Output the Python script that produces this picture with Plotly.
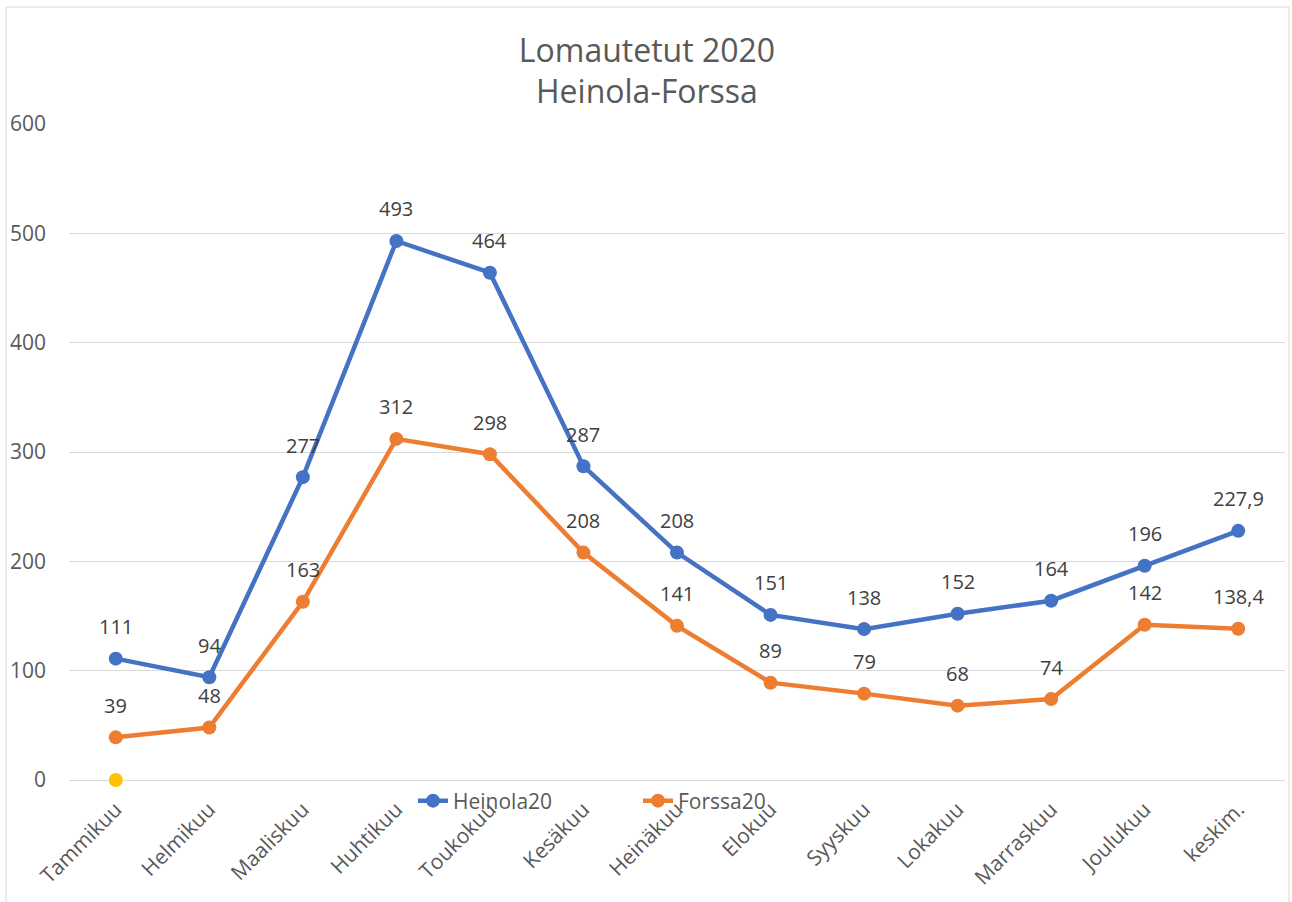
import plotly.graph_objects as go

categories = ["Tammikuu", "Helmikuu", "Maaliskuu", "Huhtikuu", "Toukokuu", "Kesäkuu",
              "Heinäkuu", "Elokuu", "Syyskuu", "Lokakuu", "Marraskuu", "Joulukuu", "keskim."]
heinola20 = [111, 94, 277, 493, 464, 287, 208, 151, 138, 152, 164, 196, 227.9]
forssa20 = [39, 48, 163, 312, 298, 208, 141, 89, 79, 68, 74, 142, 138.4]
series3_cats = ["Tammikuu"]
series3 = [0]
y_ticks = [0, 100, 200, 300, 400, 500, 600]

BLUE = "#4472C4"
ORANGE = "#ED7D31"
YELLOW = "#FFC000"
TXT = "#595959"
LBL = "#404040"
FONT = "Open Sans"

W, H = 1292, 902
L, R, T, B = 69, 7, 124, 122
PW, PH = W - L - R, H - T - B


def fmt(v):
    if float(v).is_integer():
        return str(int(v))
    return str(v).replace(".", ",")


def px_x(p):
    return (p - L) / PW


def px_y(p):
    return (H - B - p) / PH


fig = go.Figure()
fig.add_trace(go.Scatter(x=categories, y=heinola20, name="Heinola20", mode="lines+markers",
                         line=dict(color=BLUE, width=4.5), marker=dict(size=14, color=BLUE),
                         cliponaxis=False))
fig.add_trace(go.Scatter(x=categories, y=forssa20, name="Forssa20", mode="lines+markers",
                         line=dict(color=ORANGE, width=4.5), marker=dict(size=14, color=ORANGE),
                         cliponaxis=False))
fig.add_trace(go.Scatter(x=series3_cats, y=series3, name="Series3", mode="markers",
                         marker=dict(size=14, color=YELLOW), showlegend=False, cliponaxis=False))

annotations = []
for series in (heinola20, forssa20):
    for c, v in zip(categories, series):
        annotations.append(dict(x=c, y=v, xref="x", yref="y", text=fmt(v), showarrow=False,
                                yshift=32, font=dict(family=FONT, size=20, color=LBL)))

annotations.append(dict(text="Heinola-Forssa", x=px_x(647), xref="paper", xanchor="center",
                        y=px_y(90), yref="paper", yanchor="middle", showarrow=False,
                        font=dict(family=FONT, size=32, color=TXT)))

fig.update_layout(
    width=W, height=H,
    margin=dict(l=L, r=R, t=T, b=B),
    paper_bgcolor="white", plot_bgcolor="white",
    font=dict(family=FONT, size=21, color=TXT),
    title=dict(text="Lomautetut 2020", x=647 / W, xanchor="center", xref="container",
               y=1 - 51 / H, yanchor="middle",
               font=dict(family=FONT, size=32, color=TXT)),
    showlegend=True,
    legend=dict(orientation="h", x=px_x(413), xanchor="left", y=px_y(801), yanchor="middle",
                bgcolor="rgba(0,0,0,0)", font=dict(family=FONT, size=21, color=TXT),
                entrywidth=180, entrywidthmode="pixels"),
    annotations=annotations,
    xaxis=dict(type="category", categoryorder="array", categoryarray=categories,
               range=[-0.5, len(categories) - 0.5], tickangle=-45, showgrid=False,
               showline=False, ticks="", ticklabelstandoff=12,
               tickfont=dict(family=FONT, size=21, color=TXT)),
    yaxis=dict(range=[0, 600], tickvals=y_ticks, showgrid=True, gridcolor="#D9D9D9", gridwidth=1,
               zeroline=True, zerolinecolor="#D9D9D9", zerolinewidth=1, showline=False, ticks="",
               ticklabelstandoff=22, tickfont=dict(family=FONT, size=21, color=TXT)),
    shapes=[dict(type="rect", xref="paper", yref="paper",
                 x0=px_x(6), x1=px_x(1289), y0=px_y(910), y1=px_y(7),
                 line=dict(color="#D9D9D9", width=1), fillcolor="rgba(0,0,0,0)", layer="below")],
)

fig.write_html("out.html", config={"displayModeBar": False},
               post_script="document.body.style.margin='0';")
